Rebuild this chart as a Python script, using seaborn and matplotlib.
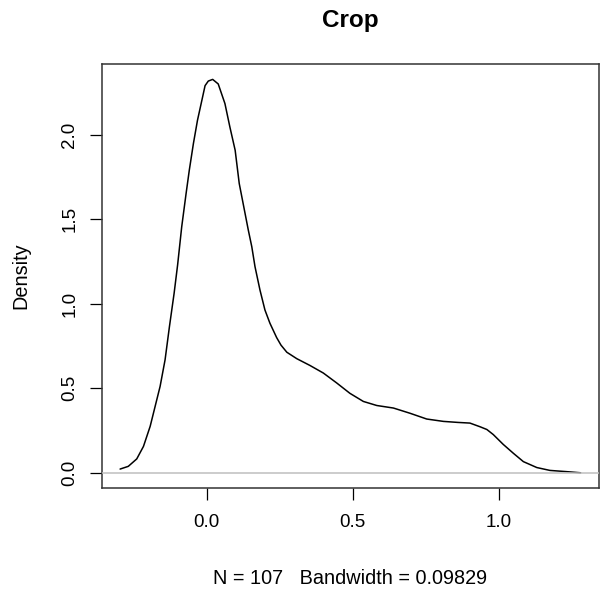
import matplotlib
matplotlib.use("Agg")
import matplotlib.pyplot as plt
import seaborn as sns
import pandas as pd

# Density curve
dens_x = [-0.296, -0.268, -0.239, -0.216, -0.193, -0.176, -0.159, -0.142, -0.127, -0.111,
          -0.099, -0.085, -0.070, -0.059, -0.045, -0.031, -0.016, -0.005, 0.006, 0.021,
          0.040, 0.063, 0.080, 0.098, 0.112, 0.143, 0.155, 0.166, 0.183, 0.200,
          0.217, 0.240, 0.255, 0.275, 0.309, 0.354, 0.400, 0.446, 0.491, 0.537, 0.583,
          0.640, 0.697, 0.754, 0.811, 0.860, 0.902, 0.937, 0.960, 0.982, 1.016,
          1.051, 1.085, 1.131, 1.176, 1.231, 1.281]
dens_y = [0.022, 0.038, 0.082, 0.156, 0.275, 0.393, 0.511, 0.668, 0.865, 1.062,
          1.230, 1.455, 1.652, 1.790, 1.947, 2.085, 2.203, 2.290, 2.317, 2.327,
          2.300, 2.184, 2.045, 1.908, 1.711, 1.436, 1.337, 1.219, 1.081, 0.963,
          0.885, 0.800, 0.755, 0.713, 0.675, 0.635, 0.590, 0.531, 0.470, 0.422, 0.398,
          0.383, 0.352, 0.318, 0.304, 0.298, 0.294, 0.272, 0.256, 0.226, 0.168,
          0.115, 0.066, 0.031, 0.014, 0.007, 0.0]

x_ticks = [0.0, 0.5, 1.0]
x_tick_labels = ["0.0", "0.5", "1.0"]
y_ticks = [0.0, 0.5, 1.0, 1.5, 2.0]
y_tick_labels = ["0.0", "0.5", "1.0", "1.5", "2.0"]

title = "Crop"
x_label = "N = 107   Bandwidth = 0.09829"
y_label = "Density"

sns.set_theme(style="white")
plt.rcParams["font.family"] = ["Liberation Sans", "DejaVu Sans"]

fig = plt.figure(figsize=(6.02, 5.90), dpi=100)
ax = fig.add_axes([101.7 / 602, 1 - 488 / 590, (599 - 101.7) / 602, (488 - 64) / 590])

df = pd.DataFrame({"x": dens_x, "y": dens_y})
sns.lineplot(data=df, x="x", y="y", sort=False, estimator=None, color="black",
             linewidth=1.1, ax=ax, zorder=2)
ax.axhline(0, color="#BEBEBE", linewidth=1.1, zorder=3)

ax.set_xlim(-0.359, 1.344)
ax.set_ylim(-0.090, 2.418)

ax.set_xticks(x_ticks)
ax.set_xticklabels(x_tick_labels)
ax.set_yticks(y_ticks)
ax.set_yticklabels(y_tick_labels, rotation=90, va="center")

ax.tick_params(axis="both", direction="out", length=8.9, width=0.9, color="black",
               labelsize=13.5, labelcolor="black", bottom=True, left=True)
ax.tick_params(axis="x", pad=10)
ax.tick_params(axis="y", pad=8)

for s in ax.spines.values():
    s.set_visible(True)
    s.set_color("#333333")
    s.set_linewidth(1.1)

ax.set_xlabel(x_label, fontsize=14.3, color="black", labelpad=27)
ax.set_ylabel(y_label, fontsize=14.3, color="black", labelpad=22)
fig.text((101.7 + 599) / 2 / 602, 1 - 21 / 590, title, ha="center", va="center",
         fontsize=17.5, fontweight="bold", color="black")

fig.savefig("out.png", dpi=100, facecolor="white")
